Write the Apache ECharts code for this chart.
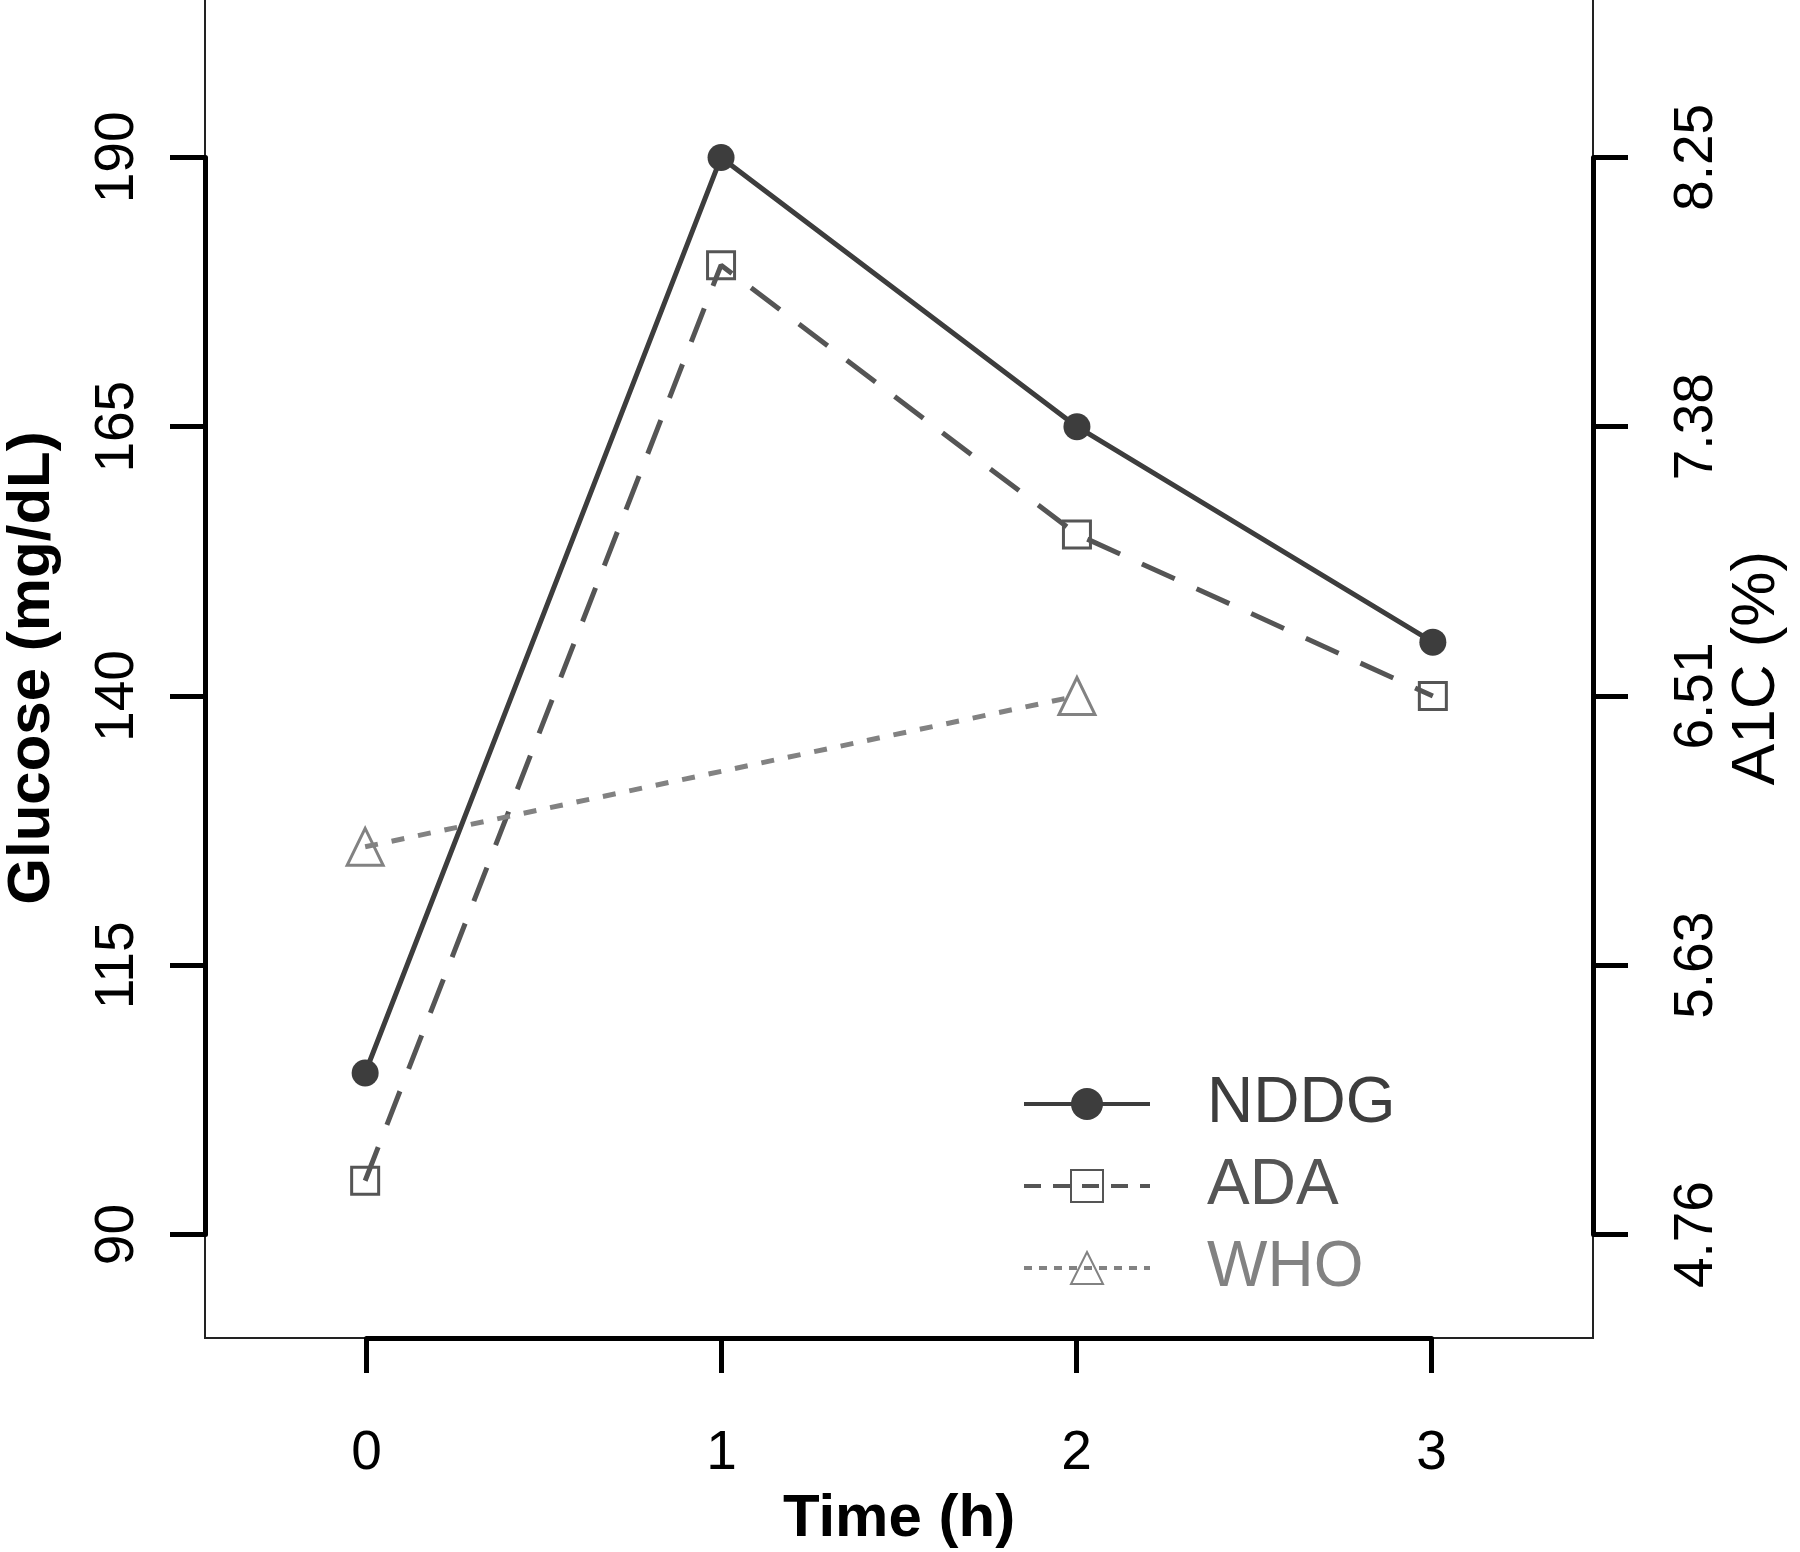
<!DOCTYPE html>
<html>
<head>
<meta charset="utf-8">
<script src="https://cdn.jsdelivr.net/npm/echarts@6/dist/echarts.min.js"></script>
<style>html,body{margin:0;padding:0;background:#fff}#c{width:1800px;height:1552px}</style>
</head>
<body>
<div id="c"></div>
<script>
// ---- data ----
const hours = [0, 1, 2, 3];
const nddg = [105, 190, 165, 145];
const ada = [95, 180, 155, 140];
const who = [126, null, 140, null];
const glucoseTicks = [90, 115, 140, 165, 190];
const a1cLabels = ['4.76', '5.63', '6.51', '7.38', '8.25'];
const xTickLabels = ['0', '1', '2', '3'];

const FONT = "'Liberation Sans', Arial, Helvetica, sans-serif";
const pairs = (ys) => hours.map((h, i) => [h, ys[i]]);

const hidden = {
  axisLine: { show: false }, axisTick: { show: false },
  axisLabel: { show: false }, splitLine: { show: false }
};

const chart = echarts.init(document.getElementById('c'), null, { renderer: 'canvas' });
chart.setOption({
  animation: false,
  backgroundColor: '#fff',
  textStyle: { fontFamily: FONT },
  grid: [
    { left: 205, right: 207, top: -2, bottom: 214, show: true, borderColor: '#222', borderWidth: 2,
      backgroundColor: 'transparent', containLabel: false, outerBoundsMode: 'none' },
    { left: 205, right: 207, top: 157.4, bottom: 317.4, containLabel: false, outerBoundsMode: 'none' },
    { left: 366.5, right: 368.5, top: 100, bottom: 214, containLabel: false, outerBoundsMode: 'none' }
  ],
  xAxis: [
    Object.assign({ gridIndex: 0, type: 'value', min: -0.45, max: 3.45,
      name: 'Time (h)', nameLocation: 'middle', nameGap: 151,
      nameTextStyle: { fontSize: 60, fontWeight: 'bold', color: '#000', fontFamily: FONT } }, hidden),
    Object.assign({ gridIndex: 1, type: 'value', min: 0, max: 1, show: false }, hidden),
    { gridIndex: 2, type: 'value', min: 0, max: 3, interval: 1, position: 'bottom',
      axisLine: { show: true, lineStyle: { color: '#000', width: 5 } },
      axisTick: { show: true, length: 35, lineStyle: { color: '#000', width: 5 } },
      axisLabel: { show: true, fontSize: 55, color: '#000', margin: 88, fontFamily: FONT,
        formatter: (v) => xTickLabels[hours.indexOf(v)] },
      splitLine: { show: false } }
  ],
  yAxis: [
    Object.assign({ gridIndex: 0, type: 'value', min: 80.4, max: 204.8, position: 'left',
      name: 'Glucose (mg/dL)', nameLocation: 'middle', nameGap: 143,
      nameTextStyle: { fontSize: 60, fontWeight: 'bold', color: '#000', fontFamily: FONT } }, hidden),
    Object.assign({ gridIndex: 0, type: 'value', min: 80.4, max: 204.8, position: 'right',
      name: 'A1C (%)', nameLocation: 'middle', nameGap: 133,
      nameTextStyle: { fontSize: 62, color: '#000', fontFamily: FONT } }, hidden),
    { gridIndex: 1, type: 'value', min: 90, max: 190, interval: 25, position: 'left',
      axisLine: { show: true, lineStyle: { color: '#000', width: 5 } },
      axisTick: { show: true, length: 35, lineStyle: { color: '#000', width: 5 } },
      axisLabel: { show: true, rotate: 90, fontSize: 55, color: '#000', margin: 60, fontFamily: FONT },
      splitLine: { show: false } },
    { gridIndex: 1, type: 'value', min: 90, max: 190, interval: 25, position: 'right',
      axisLine: { show: true, lineStyle: { color: '#000', width: 5 } },
      axisTick: { show: true, length: 35, lineStyle: { color: '#000', width: 5 } },
      axisLabel: { show: true, rotate: 90, fontSize: 55, color: '#000', margin: 76, fontFamily: FONT,
        formatter: (v) => a1cLabels[glucoseTicks.indexOf(v)] },
      splitLine: { show: false } },
    Object.assign({ gridIndex: 2, type: 'value', min: 0, max: 1, show: false }, hidden)
  ],
  legend: {
    orient: 'vertical', left: 1022, top: 1072, padding: 0,
    itemWidth: 126, itemHeight: 40, itemGap: 18,
    selectedMode: false,
    textStyle: { fontSize: 64, fontFamily: FONT, padding: [0, 0, 0, 52] },
    data: [
      { name: 'NDDG', textStyle: { color: '#3d3d3d' }, lineStyle: { width: 4 } },
      { name: 'ADA', textStyle: { color: '#555555' }, lineStyle: { width: 4, type: [17, 12] } },
      { name: 'WHO', textStyle: { color: '#828282' }, lineStyle: { width: 4, type: [8, 7] } }
    ]
  },
  series: [
    { name: 'NDDG', type: 'line', xAxisIndex: 0, yAxisIndex: 0, data: pairs(nddg),
      symbol: 'circle', symbolSize: 27, color: '#3d3d3d',
      itemStyle: { color: '#3d3d3d' },
      lineStyle: { color: '#3d3d3d', width: 5 } },
    { name: 'ADA', type: 'line', xAxisIndex: 0, yAxisIndex: 0, data: pairs(ada),
      symbol: 'rect', symbolSize: 27, color: '#555555',
      itemStyle: { color: 'rgba(255,255,255,0)', borderColor: '#555555', borderWidth: 3 },
      lineStyle: { color: '#555555', width: 5, type: [36, 24] } },
    { name: 'WHO', type: 'line', xAxisIndex: 0, yAxisIndex: 0, data: pairs(who), connectNulls: true,
      symbol: 'triangle', symbolSize: [36, 37], color: '#828282',
      itemStyle: { color: 'rgba(255,255,255,0)', borderColor: '#828282', borderWidth: 3 },
      lineStyle: { color: '#828282', width: 5, type: [13, 14] } }
  ]
});
</script>
</body>
</html>
